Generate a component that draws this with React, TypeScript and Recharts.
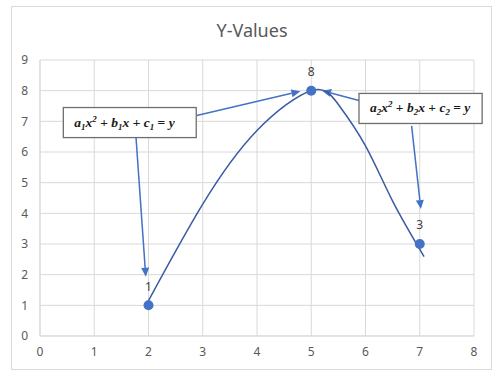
import { ScatterChart, Scatter, XAxis, YAxis, CartesianGrid, LabelList, ReferenceLine, ReferenceArea } from "recharts";

// measured points
const pointX = [2, 5, 7];
const pointY = [1, 8, 3];

// smooth curve
const curveX = [1.99, 3, 4, 5, 5.5, 6, 6.5, 7.08];
const curveY = [1.12, 4.3, 6.7, 8, 7.55, 6.2, 4.4, 2.59];

const xTicks = [0, 1, 2, 3, 4, 5, 6, 7, 8];
const yTicks = [0, 1, 2, 3, 4, 5, 6, 7, 8, 9];

// annotation boxes (data coords): x1, x2, y1, y2
const boxX1 = [0.43, 5.88];
const boxX2 = [2.88, 8.15];
const boxY1 = [6.47, 6.93];
const boxY2 = [7.45, 7.91];
const boxSub = ["1", "2"];

// arrows (data coords)
const arrowFromX = [2.89, 1.77, 5.88, 6.85];
const arrowFromY = [7.19, 6.47, 7.68, 6.85];
const arrowToX = [4.8, 1.95, 5.2, 7.02];
const arrowToY = [7.98, 1.93, 8.0, 4.14];

const BLUE = "#4472C4";
const CURVE = "#3A5BA3";
const TEXT = "#595959";
const FONT = "'Noto Sans', sans-serif";

const points = pointX.map((x, i) => ({ x, y: pointY[i] }));
const curve = curveX.map((x, i) => ({ x, y: curveY[i] }));

const Arrow = (props: any) => {
  const { x1, y1, x2, y2 } = props;
  const ang = Math.atan2(y2 - y1, x2 - x1);
  const len = 9;
  const hw = 4;
  const bx = x2 - len * Math.cos(ang);
  const by = y2 - len * Math.sin(ang);
  const px = -Math.sin(ang) * hw;
  const py = Math.cos(ang) * hw;
  return (
    <g>
      <line x1={x1} y1={y1} x2={bx} y2={by} stroke={BLUE} strokeWidth={1.5} />
      <polygon points={`${x2},${y2} ${bx + px},${by + py} ${bx - px},${by - py}`} fill={BLUE} />
    </g>
  );
};

const Formula = ({ x, y, sub }: { x: number; y: number; sub: string }) => (
  <text x={x} y={y} fontFamily="'Liberation Serif', serif" fontStyle="italic" fontWeight="bold" fontSize={13.5} fill="#1a1a1a">
    <tspan>a</tspan>
    <tspan fontSize={9} dy={3}>{sub}</tspan>
    <tspan dy={-3}>x</tspan>
    <tspan fontSize={9} dy={-5}>2</tspan>
    <tspan dy={5} fontStyle="normal"> + </tspan>
    <tspan>b</tspan>
    <tspan fontSize={9} dy={3}>{sub}</tspan>
    <tspan dy={-3}>x</tspan>
    <tspan fontStyle="normal"> +  </tspan>
    <tspan>c</tspan>
    <tspan fontSize={9} dy={3}>{sub}</tspan>
    <tspan dy={-3} fontStyle="normal"> = </tspan>
    <tspan>y</tspan>
  </text>
);

const makeBox = (sub: string) => (props: any) => {
  const { x, y, width, height } = props;
  return (
    <g>
      <rect x={x} y={y} width={width} height={height} fill="#fff" stroke="#6E6E6E" strokeWidth={1.3} />
      <Formula x={x + 11} y={y + height / 2 + 4} sub={sub} />
    </g>
  );
};

export default function App() {
  return (
    <div style={{ position: "absolute", left: 0, top: 0, width: 504, height: 381, background: "#fff", fontFamily: FONT }}>
      <div
        style={{
          position: "absolute",
          left: 11,
          top: 6,
          width: 479,
          height: 362,
          border: "1px solid #D9D9D9",
        }}
      />
      <div
        style={{
          position: "absolute",
          left: 0,
          width: 504,
          top: 18,
          textAlign: "center",
          fontSize: 18,
          color: TEXT,
        }}
      >
        Y-Values
      </div>
      <div style={{ position: "absolute", left: 0, top: 0 }}>
        <ScatterChart width={504} height={381} margin={{ top: 60, right: 30, bottom: 15, left: 10 }}>
          <CartesianGrid stroke="#D9D9D9" strokeWidth={1} />
          <XAxis
            type="number"
            dataKey="x"
            domain={[0, 8]}
            ticks={xTicks}
            interval={0}
            height={30}
            axisLine={{ stroke: "#D9D9D9" }}
            tickLine={false}
            tickSize={0}
            tickMargin={11}
            tick={{ fill: TEXT, fontSize: 12, fontFamily: FONT }}
          />
          <YAxis
            type="number"
            dataKey="y"
            domain={[0, 9]}
            ticks={yTicks}
            interval={0}
            width={30}
            axisLine={{ stroke: "#D9D9D9" }}
            tickLine={false}
            tickSize={0}
            tickMargin={12}
            tick={{ fill: TEXT, fontSize: 12, fontFamily: FONT }}
          />
          <Scatter
            data={curve}
            line={{ stroke: CURVE, strokeWidth: 1.5 }}
            lineJointType="natural"
            shape={() => <g />}
            isAnimationActive={false}
          />
          <Scatter
            data={points}
            fill={BLUE}
            shape={(p: any) => <circle cx={p.cx} cy={p.cy} r={5} fill={BLUE} />}
            isAnimationActive={false}
          >
            <LabelList dataKey="y" position="top" offset={10} fill="#404040" fontSize={12} fontFamily={FONT} />
          </Scatter>
          {arrowFromX.map((fx, i) => (
            <ReferenceLine
              key={"a" + i}
              segment={[
                { x: fx, y: arrowFromY[i] },
                { x: arrowToX[i], y: arrowToY[i] },
              ]}
              ifOverflow="visible"
              shape={Arrow}
            />
          ))}
          {boxX1.map((bx, i) => (
            <ReferenceArea
              key={"b" + i}
              x1={bx}
              x2={boxX2[i]}
              y1={boxY1[i]}
              y2={boxY2[i]}
              ifOverflow="visible"
              shape={makeBox(boxSub[i])}
            />
          ))}
        </ScatterChart>
      </div>
    </div>
  );
}
